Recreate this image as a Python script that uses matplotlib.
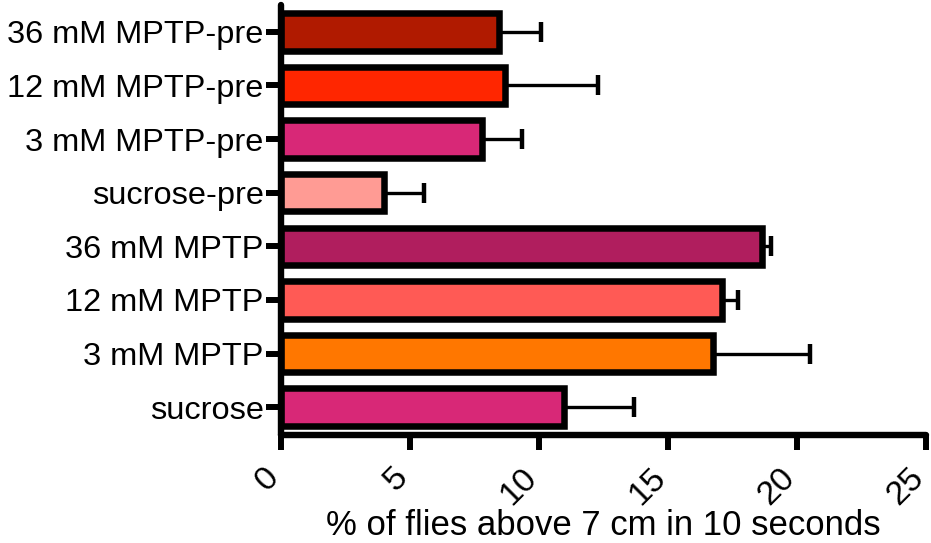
import matplotlib
matplotlib.use("Agg")
import matplotlib.pyplot as plt
import matplotlib.transforms as mtrans
import numpy as np

categories = ["sucrose", "3 mM MPTP", "12 mM MPTP", "36 mM MPTP",
              "sucrose-pre", "3 mM MPTP-pre", "12 mM MPTP-pre", "36 mM MPTP-pre"]
values = [10.97, 16.75, 17.1, 18.64, 4.0, 7.8, 8.68, 8.45]
errors = [2.73, 3.75, 0.6, 0.36, 1.54, 1.54, 3.62, 1.63]
colors = ["#D82877", "#FF7700", "#FF5A55", "#B01E5E",
          "#FF9B94", "#D82877", "#FF2600", "#B01A00"]
xticks = [0, 5, 10, 15, 20, 25]
xlabel = "% of flies above 7 cm in 10 seconds"

plt.rcParams['font.family'] = ['Liberation Sans', 'DejaVu Sans']

fig = plt.figure(figsize=(9.31, 5.43), dpi=100)
W, H = 931, 543
ax = fig.add_axes([281 / W, (H - 435) / H, (926 - 281) / W, (435 - 5) / H])

y = np.arange(len(categories))
ax.errorbar(values, y, xerr=[np.zeros(len(errors)), errors], fmt='none',
            ecolor='black', elinewidth=2.4, capsize=7.5, capthick=3.2, zorder=1)
ax.barh(y, values, height=0.7, color=colors, edgecolor='black',
        linewidth=4.7, zorder=2)

ax.set_xlim(0, 25)
ax.set_ylim(-0.52, 7.5)
ax.set_xticks(xticks)
ax.set_xticklabels([])
# rotated tick labels placed as real text under each tick
base = mtrans.blended_transform_factory(ax.transData, ax.transAxes)
shift = mtrans.ScaledTranslation(-7 / 100, -38 / 100, fig.dpi_scale_trans)
for t in xticks:
    ax.text(t, 0, str(t), transform=base + shift, rotation=45, ha='right',
            va='center', rotation_mode='anchor', fontsize=24.5, clip_on=False)
ax.set_yticks(y)
ax.set_yticklabels(categories, fontsize=23.4)
ax.set_xlabel(xlabel, fontsize=25, va='baseline')
ax.xaxis.set_label_coords(0.5, (435 - 535) / 430)

for s in ['top', 'right']:
    ax.spines[s].set_visible(False)
for s in ['left', 'bottom']:
    ax.spines[s].set_linewidth(4.6)
    ax.spines[s].set_capstyle('round')
ax.tick_params(axis='both', length=10.5, width=4.3, direction='out', pad=2)
for tl in ax.xaxis.get_ticklines() + ax.yaxis.get_ticklines():
    tl.set_solid_capstyle('round')

fig.savefig("out.png", dpi=100)
